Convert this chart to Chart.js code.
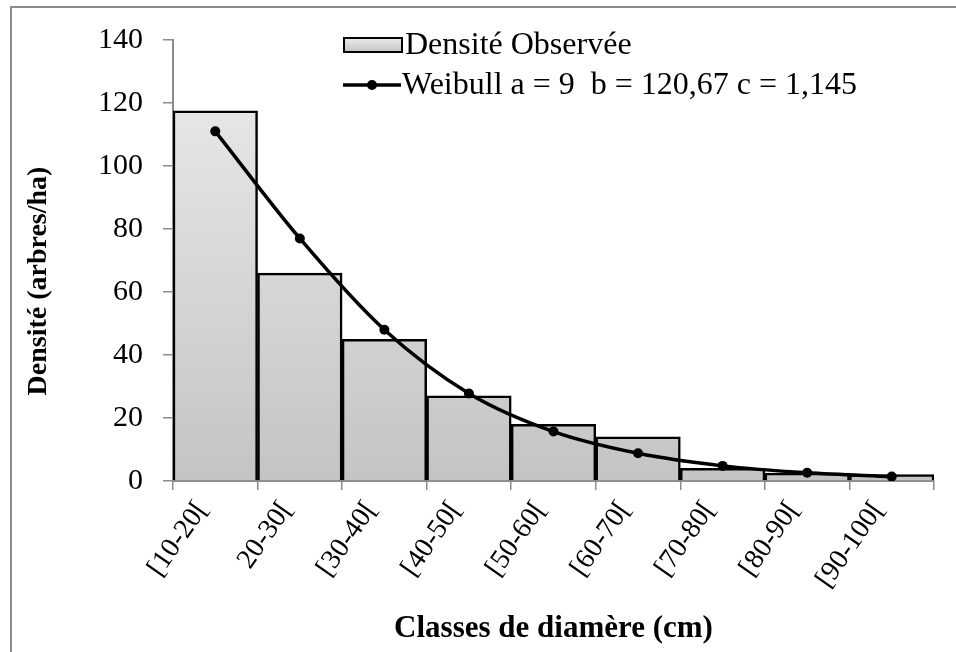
<!DOCTYPE html>
<html>
<head>
<meta charset="utf-8">
<script src="https://cdn.jsdelivr.net/npm/chart.js@4.4.1/dist/chart.umd.min.js"></script>
<style>
html,body{margin:0;padding:0;background:#fff;overflow:hidden;}
#wrap{position:relative;width:956px;height:652px;}
#frame{position:absolute;left:10px;top:6px;width:1200px;height:1200px;border-top:2px solid #8c8c8c;border-left:2px solid #8c8c8c;}
canvas{position:absolute;left:0;top:0;}
</style>
</head>
<body>
<div id="wrap"><div id="frame"></div><canvas id="c" width="956" height="652"></canvas></div>
<script>
const categories = ["[10-20[", "20-30[", "[30-40[", "[40-50[", "[50-60[", "[60-70[", "[70-80[", "[80-90[", "[90-100["];
const observed = [117.5, 66, 45, 27, 18, 14, 4, 2.5, 2];
const weibull = [111, 77, 48, 27.8, 15.7, 8.8, 4.8, 2.6, 1.4];
const yTicks = [0, 20, 40, 60, 80, 100, 120, 140];
const observedLabel = "Densité Observée";
const weibullLabel = "Weibull a = 9  b = 120,67 c = 1,145";
const yTitle = "Densité (arbres/ha)";
const xTitle = "Classes de diamère (cm)";

const FONT = "'Liberation Serif', 'Times New Roman', serif";

function barGradient(ctx, top, bottom) {
  const g = ctx.createLinearGradient(0, top, 0, bottom);
  g.addColorStop(0, '#ececec');
  g.addColorStop(1, '#c4c4c4');
  return g;
}

const extrasPlugin = {
  id: 'extras',
  afterDraw(chart) {
    const ctx = chart.ctx;
    const ds = chart.data.datasets;
    const bar = ds.find(d => d.type !== 'line');
    const line = ds.find(d => d.type === 'line');
    ctx.save();
    // legend: bar swatch
    ctx.fillStyle = barGradient(ctx, 38, 52);
    ctx.fillRect(344, 38, 58, 14);
    ctx.lineWidth = 2;
    ctx.strokeStyle = '#000';
    ctx.strokeRect(344, 38, 58, 14);
    ctx.fillStyle = '#000';
    ctx.font = "32px " + FONT;
    ctx.textBaseline = 'alphabetic';
    ctx.fillText(bar.label, 405, 54);
    // legend: line swatch
    ctx.beginPath();
    ctx.moveTo(343, 85);
    ctx.lineTo(401, 85);
    ctx.lineWidth = 3.5;
    ctx.stroke();
    ctx.beginPath();
    ctx.arc(372, 85, 5, 0, Math.PI * 2);
    ctx.fill();
    ctx.fillText(line.label, 402, 94);
    // y axis title
    ctx.translate(39, 281);
    ctx.rotate(-Math.PI / 2);
    ctx.font = "bold 28px " + FONT;
    ctx.textAlign = 'center';
    ctx.textBaseline = 'middle';
    ctx.fillText(yTitle, 0, 0);
    ctx.restore();
  }
};

new Chart(document.getElementById('c'), {
  type: 'bar',
  data: {
    labels: categories,
    datasets: [
      {
        type: 'line',
        label: weibullLabel,
        data: weibull,
        borderColor: '#000',
        backgroundColor: '#000',
        borderWidth: 3.5,
        pointRadius: 5,
        pointBackgroundColor: '#000',
        pointBorderWidth: 0,
        tension: 0.4,
        cubicInterpolationMode: 'monotone',
        order: 0
      },
      {
        type: 'bar',
        label: observedLabel,
        data: observed,
        backgroundColor(context) {
          const ca = context.chart.chartArea;
          if (!ca) return '#ddd';
          return barGradient(context.chart.ctx, ca.top, ca.bottom);
        },
        borderColor: '#000',
        borderWidth: 2.5,
        barPercentage: 1,
        categoryPercentage: 1,
        order: 1
      }
    ]
  },
  options: {
    responsive: false,
    animation: false,
    devicePixelRatio: 1,
    layout: { padding: { left: 12, top: 40, right: 22, bottom: 0 } },
    plugins: { legend: { display: false }, tooltip: { enabled: false } },
    scales: {
      x: {
        offset: true,
        grid: { offset: true, drawOnChartArea: false, drawTicks: true, tickLength: 9, color: '#8c8c8c', lineWidth: 1.5 },
        border: { display: true, color: '#8c8c8c', width: 2 },
        ticks: { color: '#000', font: { family: FONT, size: 28 }, minRotation: 55, maxRotation: 55, padding: 5, labelOffset: -13, autoSkip: false },
        title: { display: true, text: xTitle, color: '#000', font: { family: FONT, size: 31, weight: 'bold' }, padding: { top: 0, bottom: 4 } },
        afterFit(s) { s.height = 171; }
      },
      y: {
        min: 0, max: 140,
        afterBuildTicks(s) { s.ticks = yTicks.map(v => ({ value: v })); },
        grid: { drawOnChartArea: false, drawTicks: true, tickLength: 10, color: '#8c8c8c', lineWidth: 1.5 },
        border: { display: true, color: '#8c8c8c', width: 2 },
        ticks: { color: '#000', font: { family: FONT, size: 30 }, padding: 20 },
        title: { display: false },
        afterFit(s) { s.width = 161; }
      }
    }
  },
  plugins: [extrasPlugin]
});
</script>
</body>
</html>
